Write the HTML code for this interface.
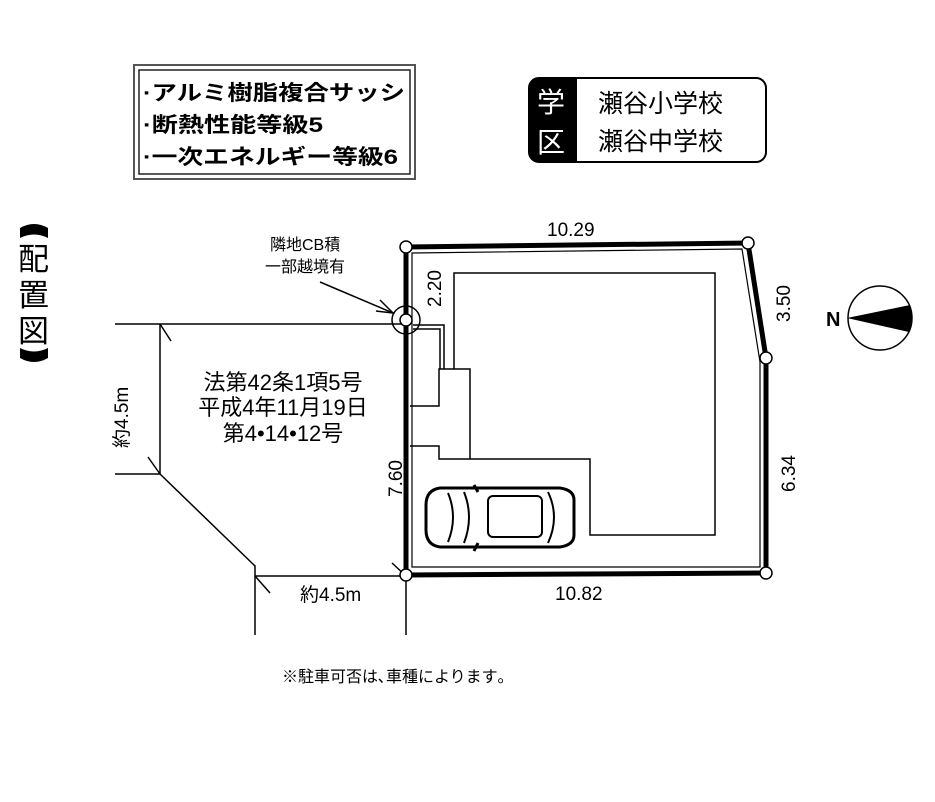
<!DOCTYPE html>
<html><head><meta charset="utf-8"><style>
body{margin:0;background:#fff;}
svg{display:block;}
text{font-family:"Liberation Sans","Noto Sans CJK JP",sans-serif;fill:#000;}
</style></head><body>
<svg width="935" height="802" viewBox="0 0 935 802" xmlns="http://www.w3.org/2000/svg">
<rect x="134" y="65" width="281" height="114" fill="none" stroke="#555" stroke-width="2"/>
<rect x="139" y="70" width="271" height="104" fill="none" stroke="#222" stroke-width="1.5"/>
<g font-weight="bold" font-size="21">
<text x="143" y="100" textLength="262" lengthAdjust="spacingAndGlyphs">·アルミ樹脂複合サッシ</text>
<text x="143" y="132" textLength="180" lengthAdjust="spacingAndGlyphs">·断熱性能等級5</text>
<text x="143" y="164" textLength="255" lengthAdjust="spacingAndGlyphs">·一次エネルギー等級6</text>
</g>
<rect x="529" y="78" width="237" height="84" rx="10" fill="#fff" stroke="#000" stroke-width="2"/>
<path d="M539 78 H577 V162 H539 A10 10 0 0 1 529 152 V88 A10 10 0 0 1 539 78Z" fill="#000"/>
<text x="537" y="112" font-size="28" style="fill:#fff">学</text>
<text x="537" y="152" font-size="28" style="fill:#fff">区</text>
<text x="598" y="112" font-size="25">瀬谷小学校</text>
<text x="598" y="150" font-size="25">瀬谷中学校</text>
<path d="M20 238 V228 Q34 220 48 228 V238 Q34 231 20 238Z" fill="#000"/>
<g font-size="31">
<text x="18" y="270">配</text>
<text x="18" y="306">置</text>
<text x="18" y="342">図</text>
</g>
<path d="M20 348 V358 Q34 366 48 358 V348 Q34 355 20 348Z" fill="#000"/>
<g stroke="#000" stroke-width="1.5" fill="none">
<path d="M115 324 H406"/>
<path d="M160 324 V474"/>
<path d="M115 474 H160 L255 566 V635"/>
<path d="M255 576 H406"/>
<path d="M406 575 V635"/>
<path d="M160 324 L171 341 M160 474 L148 457 M255 576 L270 593 M406 576 L392 563"/>
<path d="M320 282 L393 313"/>
<path d="M380 300 L393 313 L376 311"/>
</g>
<path d="M412 253 L742 249 L760 362 V567 H412 Z" fill="none" stroke="#000" stroke-width="1.2"/>
<path d="M406 247 L748 243 L766 358 V573 L406 575 Z" fill="none" stroke="#000" stroke-width="5"/>
<g stroke="#000" stroke-width="1.5" fill="none">
<path d="M454 369 V273 H715 V535 H590 V459 H439 V446 H410"/>
<path d="M470 459 V369 H439 V406 H410"/>
<path d="M413 325 H444 V369 M413 329 H440 V369"/>
</g>
<g stroke="#000" stroke-width="2" fill="#fff">
<path d="M440 488 H560 Q574 490 574 500 V535 Q574 545 560 547 H440 Q426 545 426 530 V505 Q426 490 440 488Z" stroke-width="3"/>
<path d="M448 493 Q458 517 448 542" fill="none"/>
<path d="M464 492 Q474 517 464 543" fill="none"/>
<rect x="488" y="496" width="54" height="41" rx="5"/>
<path d="M548 492 Q560 517 548 543" fill="none"/>
<path d="M474 485 L478 492 M474 551 L478 543" stroke-width="3"/>
</g>
<g fill="#fff" stroke="#000" stroke-width="1.5">
<circle cx="406" cy="320" r="14" fill="none"/>
<circle cx="406" cy="247" r="6"/>
<circle cx="748" cy="243" r="6"/>
<circle cx="766" cy="358" r="6"/>
<circle cx="766" cy="573" r="6"/>
<circle cx="406" cy="575" r="6"/>
<circle cx="406" cy="320" r="6"/>
</g>
<g font-size="19">
<text x="547" y="236">10.29</text>
<text x="555" y="600">10.82</text>
<text transform="translate(441 307) rotate(-90)">2.20</text>
<text transform="translate(790 322) rotate(-90)">3.50</text>
<text transform="translate(795 492) rotate(-90)">6.34</text>
<text transform="translate(402 497) rotate(-90)">7.60</text>
<text transform="translate(128 448) rotate(-90)">約4.5m</text>
<text x="300" y="601">約4.5m</text>
</g>
<g font-size="16"><text x="270" y="250">隣地CB積</text><text x="265" y="272">一部越境有</text></g>
<g font-size="22" text-anchor="middle">
<text x="283" y="390">法第42条1項5号</text>
<text x="283" y="415">平成4年11月19日</text>
<text x="283" y="441">第4•14•12号</text>
</g>
<circle cx="880" cy="318" r="32" fill="#fff" stroke="#000" stroke-width="1.5"/>
<path d="M847 318 L910 305 Q914 318 909 332 Z" fill="#000"/>
<text x="826" y="326" font-size="20" font-weight="bold">N</text>
<text x="282" y="682" font-size="16">※駐車可否は､車種によります｡</text>
</svg>
</body></html>
